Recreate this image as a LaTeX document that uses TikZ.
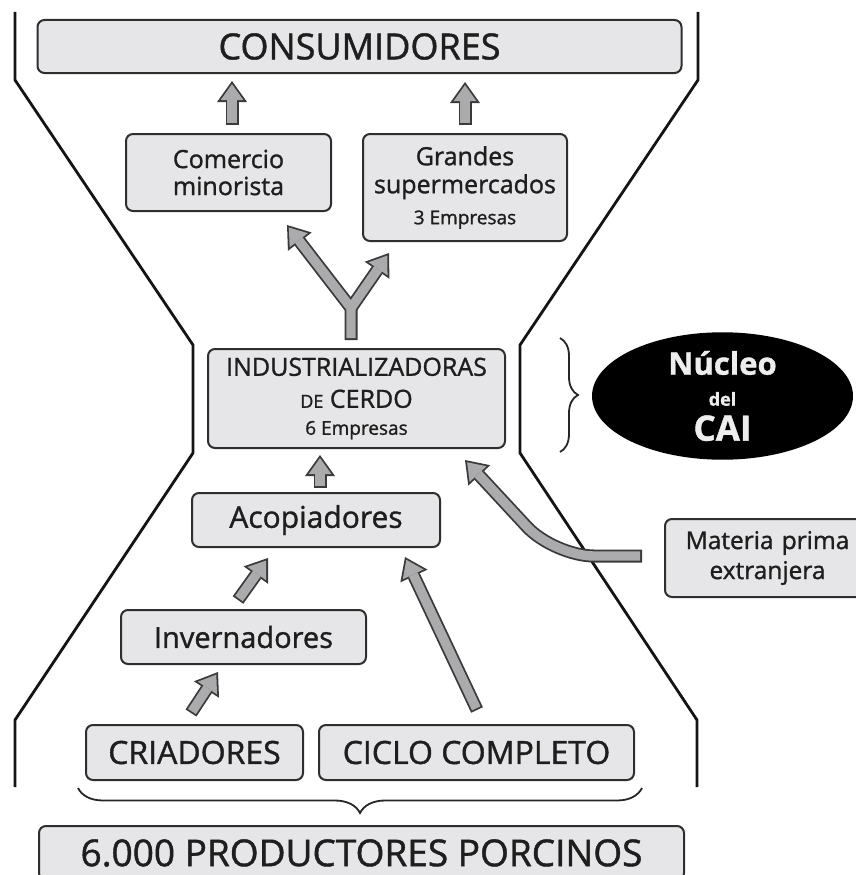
\documentclass[tikz,border=0pt]{standalone}
\usepackage{fontspec}
\setmainfont{Open Sans}[FakeBold=1.2]
\usetikzlibrary{arrows.meta,calc,shapes.geometric,decorations.pathreplacing}
\definecolor{boxfill}{HTML}{E6E6E8}
\definecolor{boxline}{HTML}{2E2E2E}
\definecolor{arrfill}{HTML}{ABABAD}
\definecolor{arrline}{HTML}{3A3A3A}
\definecolor{txt}{HTML}{1E1E1E}
\begin{document}
\begin{tikzpicture}[x=1pt,y=1pt,
  box/.style={draw=boxline, fill=boxfill, line width=2pt, rounded corners=7pt, text=txt, align=center, inner sep=0pt},
  hg/.style={line width=2.8pt, black!92, line join=miter},
  arrout/.style={draw=arrline, line width=13pt, line join=miter, -{Triangle[width=30pt,length=21pt,line width=0pt]}},
  arrin/.style={draw=arrfill, line width=9.4pt, line join=miter, -{Triangle[width=23pt,length=16.1pt,line width=0pt]}, shorten <=1.8pt, shorten >=3.1pt},
  brc/.style={decorate, decoration={brace, amplitude=#1}, line width=1.8pt, black!85},
]
\useasboundingbox (0,0) rectangle (855,-875);
% hourglass outline
\draw[hg] (15,-12) -- (15,-80) -- (193,-345) -- (193,-453) -- (15,-720) -- (15,-787);
\draw[hg] (698,-12) -- (698,-80) -- (520,-345) -- (520,-453) -- (697,-720) -- (697,-787);
% boxes
\node[box, minimum width=644pt, minimum height=53pt, font=\fontsize{36}{40}\selectfont] (cons) at (359.5,-46.5) {CONSUMIDORES};
\node[box, minimum width=205pt, minimum height=77pt, font=\fontsize{25}{27}\selectfont] (com) at (228.5,-172.5) {Comercio\\minorista};
\node[box, minimum width=204pt, minimum height=107pt, font=\fontsize{25}{28}\selectfont] (gran) at (465,-187.5) {Grandes\\supermercados\\[3pt]{\fontsize{19}{22}\selectfont 3 Empresas}};
\node[box, minimum width=297pt, minimum height=99pt, font=\fontsize{25}{32}\selectfont] (ind) at (356.5,-398.5) {INDUSTRIALIZADORAS\\{\fontsize{18}{20}\selectfont DE} CERDO\\[-5pt]{\fontsize{19}{22}\selectfont 6 Empresas}};
\node[box, minimum width=248pt, minimum height=54pt, font=\fontsize{30}{34}\selectfont] (acop) at (316,-520) {Acopiadores};
\node[box, minimum width=205pt, minimum height=78pt, font=\fontsize{24.5}{30}\selectfont, text width=205pt] (mat) at (767.5,-558) {Materia prima\\extranjera};
\node[box, minimum width=245pt, minimum height=54pt, font=\fontsize{29}{33}\selectfont] (inv) at (243.5,-637) {Invernadores};
\node[box, minimum width=217pt, minimum height=55pt, font=\fontsize{32}{36}\selectfont] (cri) at (194.5,-752.5) {CRIADORES};
\node[box, minimum width=315pt, minimum height=55pt, font=\fontsize{32}{36}\selectfont] (ciclo) at (476.5,-752.5) {CICLO COMPLETO};
\node[box, minimum width=645pt, minimum height=54pt, font=\fontsize{37}{40}\selectfont] (prod) at (361.5,-853) {6.000 PRODUCTORES PORCINOS};
% nucleo
\node[ellipse, fill=black, minimum width=261pt, minimum height=112pt, inner sep=0pt, text=white!93!black, align=center, font=\bfseries\fontsize{31}{32}\selectfont] (nuc) at (722.5,-396) {Núcleo\\[-1pt]{\fontsize{18}{20}\selectfont del}\\[3pt]{\fontsize{35}{36}\selectfont CAI}};
% braces
\draw[brc=18pt] (560,-338) -- (560,-452);
\draw[brc=25pt] (642,-788) -- (78,-788);
% arrow end points
\coordinate (a1s) at (232,-125); \coordinate (a1e) at (232,-81);
\coordinate (a2s) at (465,-125); \coordinate (a2e) at (465,-82);
\coordinate (ys) at (351,-340); \coordinate (yf) at (351,-308);
\coordinate (yl) at (287,-225); \coordinate (yr) at (389,-253);
\coordinate (a4s) at (320,-488); \coordinate (a4e) at (320,-455);
\coordinate (a5s) at (642,-556); \coordinate (a5m) at (554,-556); \coordinate (a5e) at (465,-460);
\coordinate (a6s) at (238,-600); \coordinate (a6e) at (268,-558);
\coordinate (a7s) at (191,-713); \coordinate (a7e) at (218,-672);
\coordinate (a8s) at (477,-710); \coordinate (a8e) at (405,-557);
% arrows: outlines
\foreach \s/\e in {a1s/a1e,a2s/a2e,a4s/a4e,a6s/a6e,a7s/a7e,a8s/a8e}{\draw[arrout] (\s) -- (\e);}
\draw[arrout] (ys) -- (yf) -- (yl);
\draw[arrout] (yf) -- (yr);
\draw[arrout, rounded corners=40pt] (a5s) -- (a5m) -- (a5e);
% arrows: fills
\foreach \s/\e in {a1s/a1e,a2s/a2e,a4s/a4e,a6s/a6e,a7s/a7e,a8s/a8e}{\draw[arrin] (\s) -- (\e);}
\draw[arrin] (ys) -- (yf) -- (yl);
\draw[arrin, shorten <=0pt] (yf) -- (yr);
\draw[arrin, rounded corners=40pt] (a5s) -- (a5m) -- (a5e);
\end{tikzpicture}
\end{document}
